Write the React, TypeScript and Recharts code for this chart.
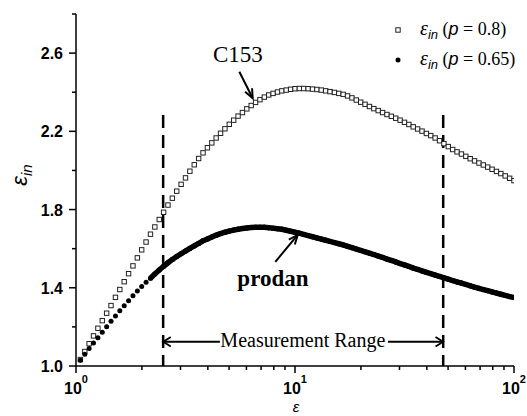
import React from 'react';
import {
  ScatterChart,
  Scatter,
  XAxis,
  YAxis,
  ReferenceLine,
  ReferenceDot,
  Legend,
} from 'recharts';

// solvent polarity axis (log spaced readings)
const epsX = [
  1.047, 1.097, 1.148, 1.202, 1.259, 1.318, 1.380, 1.445, 1.514, 1.585,
  1.660, 1.738, 1.820, 1.906, 1.995, 2.089, 2.188, 2.291, 2.399, 2.512,
  2.630, 2.754, 2.884, 3.020, 3.162, 3.311, 3.467, 3.631, 3.802, 3.981,
  4.169, 4.365, 4.571, 4.786, 5.012, 5.248, 5.495, 5.754, 6.026, 6.310,
  6.607, 6.918, 7.244, 7.586, 7.943, 8.318, 8.710, 9.120, 9.550, 10.0,
  10.47, 10.96, 11.48, 12.02, 12.59, 13.18, 13.80, 14.45, 15.14, 15.85,
  16.60, 17.38, 18.20, 19.05, 19.95, 20.89, 21.88, 22.91, 23.99, 25.12,
  26.30, 27.54, 28.84, 30.20, 31.62, 33.11, 34.67, 36.31, 38.02, 39.81,
  41.69, 43.65, 45.71, 47.86, 50.12, 52.48, 54.95, 57.54, 60.26, 63.10,
  66.07, 69.18, 72.44, 75.86, 79.43, 83.18, 87.10, 91.20, 95.50, 100.0,
];

// eps_in, p = 0.8 (C153)
const c153 = [
  1.033, 1.074, 1.114, 1.154, 1.193, 1.232, 1.270, 1.309, 1.351, 1.391,
  1.431, 1.472, 1.512, 1.553, 1.594, 1.634, 1.674, 1.711, 1.749, 1.786,
  1.823, 1.858, 1.894, 1.929, 1.962, 1.996, 2.029, 2.061, 2.090, 2.116,
  2.141, 2.166, 2.190, 2.213, 2.236, 2.257, 2.278, 2.296, 2.315, 2.332,
  2.348, 2.362, 2.375, 2.386, 2.394, 2.401, 2.407, 2.411, 2.415, 2.418,
  2.419, 2.419, 2.418, 2.416, 2.414, 2.411, 2.407, 2.403, 2.399, 2.394,
  2.389, 2.381, 2.371, 2.360, 2.349, 2.338, 2.327, 2.316, 2.306, 2.296,
  2.286, 2.277, 2.267, 2.257, 2.246, 2.235, 2.223, 2.212, 2.201, 2.189,
  2.178, 2.166, 2.152, 2.137, 2.122, 2.107, 2.095, 2.084, 2.072, 2.060,
  2.049, 2.038, 2.028, 2.017, 2.006, 1.995, 1.984, 1.972, 1.960, 1.948,
];

// eps_in, p = 0.65 (prodan)
const prodan = [
  1.030, 1.060, 1.089, 1.117, 1.145, 1.173, 1.201, 1.229, 1.256, 1.282,
  1.308, 1.334, 1.359, 1.383, 1.407, 1.428, 1.449, 1.471, 1.491, 1.510,
  1.528, 1.545, 1.560, 1.574, 1.588, 1.601, 1.614, 1.627, 1.640, 1.650,
  1.660, 1.669, 1.677, 1.684, 1.690, 1.695, 1.699, 1.703, 1.706, 1.708,
  1.709, 1.709, 1.709, 1.707, 1.705, 1.702, 1.699, 1.694, 1.689, 1.684,
  1.679, 1.673, 1.667, 1.661, 1.655, 1.649, 1.643, 1.637, 1.631, 1.625,
  1.619, 1.612, 1.605, 1.598, 1.591, 1.584, 1.577, 1.570, 1.562, 1.555,
  1.547, 1.540, 1.532, 1.524, 1.517, 1.509, 1.501, 1.494, 1.486, 1.479,
  1.472, 1.465, 1.458, 1.451, 1.444, 1.437, 1.430, 1.424, 1.417, 1.410,
  1.403, 1.397, 1.391, 1.385, 1.379, 1.373, 1.367, 1.361, 1.355, 1.350,
];

const xTicks = [1, 2, 3, 4, 5, 6, 7, 8, 9, 10, 20, 30, 40, 50, 60, 70, 80, 90, 100];
const yTicks = [1.0, 1.2, 1.4, 1.6, 1.8, 2.0, 2.2, 2.4, 2.6, 2.8];

// measurement range bounds
const rangeLo = 2.5;
const rangeHi = 47.5;

const c153Data = epsX.map((x, i) => ({ x, y: c153[i] }));
const prodanData = epsX.map((x, i) => ({ x, y: prodan[i] }));
const prodanDense = prodanData.slice(16);

const SANS = '"Liberation Sans", Arial, sans-serif';
const SERIF = '"Liberation Serif", "Times New Roman", serif';

const Square = (p: any) => (
  <rect x={p.cx - 2.2} y={p.cy - 2.2} width={4.4} height={4.4} fill="#fff" stroke="#222" strokeWidth={1} />
);
const Dot = (p: any) => <circle cx={p.cx} cy={p.cy} r={2.5} fill="#000" />;

const YTick = ({ x, y, payload }: any) => {
  const major = Math.round(payload.value * 10) % 4 === 2;
  return (
    <g>
      <line x1={x} x2={x - (major ? 7 : 4)} y1={y} y2={y} stroke="#000" strokeWidth={1.5} />
      {major && (
        <text x={x - 13} y={y + 6} textAnchor="end" fontFamily={SANS} fontWeight="bold" fontSize={16} fill="#000">
          {payload.value.toFixed(1)}
        </text>
      )}
    </g>
  );
};

const XTick = ({ x, y, payload }: any) => {
  const major = [1, 10, 100].includes(payload.value);
  return (
    <g>
      <line x1={x} x2={x} y1={y} y2={y + (major ? 7 : 4)} stroke="#000" strokeWidth={1.5} />
      {major && (
        <text x={x} y={y + 28} textAnchor="middle" fontFamily={SANS} fontWeight="bold" fontSize={16} fill="#000">
          <tspan>10</tspan>
          <tspan dy={-11} fontSize={11}>{Math.round(Math.log10(payload.value))}</tspan>
        </text>
      )}
    </g>
  );
};

// line with an arrow head at (x2, y2)
const arrow = (head: number, spread: number, width: number) => (p: any) => {
  const { x1, y1, x2, y2 } = p;
  const a = Math.atan2(y2 - y1, x2 - x1);
  const hx1 = x2 - head * Math.cos(a - spread);
  const hy1 = y2 - head * Math.sin(a - spread);
  const hx2 = x2 - head * Math.cos(a + spread);
  const hy2 = y2 - head * Math.sin(a + spread);
  return (
    <g>
      <line x1={x1} y1={y1} x2={x2} y2={y2} stroke="#000" strokeWidth={width} />
      <polyline points={`${hx1},${hy1} ${x2},${y2} ${hx2},${hy2}`} fill="none" stroke="#000" strokeWidth={width} />
    </g>
  );
};

const label = (text: string, size: number, bold = false) => (p: any) => (
  <text x={p.cx} y={p.cy} textAnchor="middle" fontFamily={SERIF} fontSize={size} fontWeight={bold ? 'bold' : 'normal'} fill="#000">
    {text}
  </text>
);

const LegendBox = () => {
  const row = (y: number, p: string, marker: React.ReactNode) => (
    <g>
      {marker}
      <text x={40} y={y} fontFamily={SERIF} fontSize={18} fill="#000">
        <tspan fontStyle="italic" fontSize={20}>ε</tspan>
        <tspan fontFamily={SANS} fontStyle="italic" fontSize={13} dy={4}>in</tspan>
        <tspan dy={-4}> (</tspan>
        <tspan fontFamily={SANS} fontStyle="italic">p</tspan>
        <tspan> = {p})</tspan>
      </text>
    </g>
  );
  return (
    <svg width={147} height={64} style={{ display: 'block' }}>
      {row(25, '0.8', <rect x={15.8} y={17.8} width={4.4} height={4.4} fill="#fff" stroke="#222" strokeWidth={1} />)}
      {row(55, '0.65', <circle cx={18} cy={50} r={2.5} fill="#000" />)}
    </svg>
  );
};

export default function App() {
  return (
    <div style={{ position: 'absolute', left: 0, top: 0, width: 527, height: 416, background: '#fff' }}>
      <ScatterChart width={527} height={416} margin={{ top: 14, right: 13, bottom: 0, left: 0 }}>
        <XAxis
          type="number"
          dataKey="x"
          scale="log"
          domain={[1, 100]}
          ticks={xTicks}
          interval={0}
          allowDataOverflow
          height={50}
          tickSize={0}
          tickMargin={0}
          tick={<XTick />}
          axisLine={{ stroke: '#000', strokeWidth: 1.5 }}
        />
        <YAxis
          type="number"
          dataKey="y"
          domain={[1.0, 2.8]}
          ticks={yTicks}
          interval={0}
          allowDataOverflow
          width={76}
          tickSize={0}
          tickMargin={0}
          tick={<YTick />}
          axisLine={{ stroke: '#000', strokeWidth: 1.5 }}
        />
        <Legend
          layout="vertical"
          align="center"
          verticalAlign="middle"
          content={<LegendBox />}
          wrapperStyle={{ position: 'absolute', left: 380, top: 10, width: 147 }}
        />
        <ReferenceLine
          segment={[{ x: rangeLo, y: 2.283 }, { x: rangeLo, y: 1.0 }]}
          stroke="#000"
          strokeWidth={2.5}
          strokeDasharray="13 7"
        />
        <ReferenceLine
          segment={[{ x: rangeHi, y: 2.283 }, { x: rangeHi, y: 1.0 }]}
          stroke="#000"
          strokeWidth={2.5}
          strokeDasharray="13 7"
        />
        <Scatter name="p08" data={c153Data} shape={Square} isAnimationActive={false} />
        <Scatter name="p065" data={prodanData} shape={Dot} isAnimationActive={false} />
        <Scatter
          name="p065line"
          data={prodanDense}
          shape={Dot}
          line={{ stroke: '#000', strokeWidth: 5.5 }}
          lineType="joint"
          isAnimationActive={false}
          legendType="none"
        />
        <ReferenceLine segment={[{ x: 5.57, y: 2.505 }, { x: 6.41, y: 2.369 }]} shape={arrow(10, 0.4, 2)} />
        <ReferenceLine segment={[{ x: 8.13, y: 1.533 }, { x: 10.29, y: 1.67 }]} shape={arrow(10, 0.4, 2)} />
        <ReferenceLine segment={[{ x: 4.54, y: 1.124 }, { x: rangeLo, y: 1.124 }]} shape={arrow(9, 0.55, 1.8)} />
        <ReferenceLine segment={[{ x: 26.6, y: 1.124 }, { x: rangeHi, y: 1.124 }]} shape={arrow(9, 0.55, 1.8)} />
        <ReferenceDot x={5.49} y={2.554} r={0} shape={label('C153', 23)} />
        <ReferenceDot x={7.93} y={1.409} r={0} shape={label('prodan', 23, true)} />
        <ReferenceDot x={10.86} y={1.097} r={0} shape={label('Measurement Range', 20)} />
      </ScatterChart>
      <svg width={527} height={416} style={{ position: 'absolute', left: 0, top: 0, pointerEvents: 'none' }}>
        <text transform="translate(27,175) rotate(-90)" textAnchor="middle" fontFamily={SANS} fill="#000">
          <tspan fontStyle="italic" fontSize={22}>ε</tspan>
          <tspan fontStyle="italic" fontSize={15} dy={5}>in</tspan>
        </text>
        <text x={296} y={412} textAnchor="middle" fontFamily={SANS} fontStyle="italic" fontSize={15} fill="#000">
          ε
        </text>
      </svg>
    </div>
  );
}
